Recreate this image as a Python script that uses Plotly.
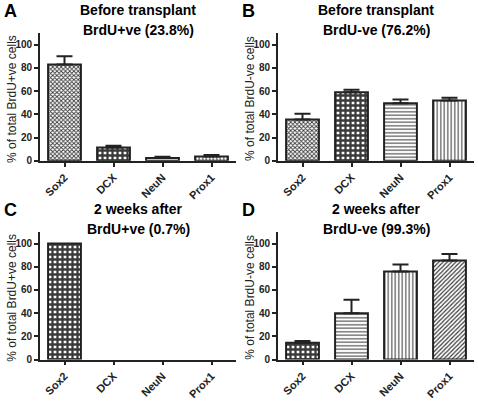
import plotly.graph_objects as go

W, H = 478, 402

categories = ["Sox2", "DCX", "NeuN", "Prox1"]

a_vals = [83.0, 11.5, 2.5, 3.8]
a_err = [7.0, 1.5, 1.0, 1.2]
b_vals = [35.5, 59.0, 49.5, 52.0]
b_err = [5.0, 2.2, 3.2, 2.2]
c_vals = [100.0, 0.0, 0.0, 0.0]
c_err = [0.0, 0.0, 0.0, 0.0]
d_vals = [14.5, 40.0, 76.0, 85.5]
d_err = [1.5, 11.5, 6.0, 5.5]

y_ticks = [0, 20, 40, 60, 80, 100]

panel_letters = ["A", "B", "C", "D"]
title_line1 = ["Before transplant", "Before transplant", "2 weeks after", "2 weeks after"]
title_line2 = ["BrdU+ve (23.8%)", "BrdU-ve (76.2%)", "BrdU+ve (0.7%)", "BrdU-ve (99.3%)"]
y_titles = ["% of total BrdU+ve cells", "% of total BrdU-ve cells",
            "% of total BrdU+ve cells", "% of total BrdU-ve cells"]

# pattern styles per bar
pat_AB = dict(shape=["x", "+", "-", "|"], size=[3, 5, 3.5, 3.5],
              solidity=[0.5, 0.7, 0.3, 0.3])
pat_C = dict(shape=["+", "+", "+", "+"], size=[5, 5, 5, 5],
             solidity=[0.7, 0.7, 0.7, 0.7])
pat_D = dict(shape=["+", "-", "|", "/"], size=[5, 3.5, 3.5, 3],
             solidity=[0.7, 0.3, 0.3, 0.4])

DARK = "#222222"

# pixel geometry of the four plot areas: (x0, x1, ytop, ybottom)
boxes = [(40, 236, 33.5, 163.3), (278, 474, 33.5, 163.3),
         (40, 236, 235.5, 365), (278, 474, 235.5, 365)]

vals = [a_vals, b_vals, c_vals, d_vals]
errs = [a_err, b_err, c_err, d_err]
pats = [pat_AB, pat_AB, pat_C, pat_D]

fig = go.Figure()
layout_axes = {}
annotations = []
font_family = "Liberation Sans, Arial, sans-serif"

for i in range(4):
    xn = "x" if i == 0 else f"x{i+1}"
    yn = "y" if i == 0 else f"y{i+1}"
    show_err = any(e > 0 for e in errs[i])
    outline_w = [2 if v > 0 else 0 for v in vals[i]]
    fig.add_trace(go.Bar(
        x=categories, y=vals[i], xaxis=xn, yaxis=yn, width=0.67,
        marker=dict(color="white",
                    line=dict(color=DARK, width=outline_w),
                    pattern=dict(shape=pats[i]["shape"], size=pats[i]["size"],
                                 solidity=pats[i]["solidity"],
                                 fgcolor="#3a3a3a", bgcolor="white",
                                 fillmode="replace")),
        error_y=dict(type="data", symmetric=False, array=errs[i],
                     arrayminus=[0] * 4, color=DARK, thickness=2, width=8,
                     visible=show_err),
        showlegend=False, hoverinfo="skip",
    ))
    x0, x1, yt, yb = boxes[i]
    xa = "xaxis" if i == 0 else f"xaxis{i+1}"
    ya = "yaxis" if i == 0 else f"yaxis{i+1}"
    layout_axes[xa] = dict(
        domain=[x0 / W, x1 / W], anchor=yn, range=[-0.5, 3.5],
        showline=True, linecolor=DARK, linewidth=1.8, ticks="outside",
        ticklen=4, tickwidth=1.5, tickcolor=DARK, tickangle=-45,
        tickfont=dict(family=font_family, size=11, color=DARK, weight="bold"),
        showgrid=False, zeroline=False, fixedrange=True)
    layout_axes[ya] = dict(
        domain=[1 - yb / H, 1 - yt / H], anchor=xn, range=[0, 110],
        tickvals=y_ticks, showline=True, linecolor=DARK, linewidth=1.8,
        ticks="outside", ticklen=4, tickwidth=1.5, tickcolor=DARK,
        tickfont=dict(family=font_family, size=10, color=DARK, weight="bold"),
        showgrid=False, zeroline=False, fixedrange=True)

    xc = (x0 + x1) / 2
    # panel letter
    annotations.append(dict(
        text=panel_letters[i], x=(x0 - 38) / W, y=1 - (yt - 22.5) / H,
        xref="paper", yref="paper", xanchor="left", yanchor="middle",
        showarrow=False,
        font=dict(family=font_family, size=18, color="black", weight="bold")))
    annotations.append(dict(
        text=title_line1[i], x=xc / W, y=1 - (yt - 23.5) / H,
        xref="paper", yref="paper", xanchor="center", yanchor="middle",
        showarrow=False,
        font=dict(family=font_family, size=14, color="black", weight="bold")))
    annotations.append(dict(
        text=title_line2[i], x=xc / W, y=1 - (yt - 3) / H,
        xref="paper", yref="paper", xanchor="center", yanchor="middle",
        showarrow=False,
        font=dict(family=font_family, size=14, color="black", weight="bold")))
    annotations.append(dict(
        text=y_titles[i], x=(x0 - 28) / W, y=1 - ((yt + yb) / 2 + 2) / H,
        xref="paper", yref="paper", xanchor="center", yanchor="middle",
        textangle=-90, showarrow=False,
        font=dict(family=font_family, size=12, color=DARK)))

fig.update_layout(
    width=W, height=H, margin=dict(l=0, r=0, t=0, b=0),
    paper_bgcolor="white", plot_bgcolor="white", hovermode=False,
    annotations=annotations, bargap=0.33, **layout_axes)

fig.write_html("out.html", config={"displayModeBar": False},
               post_script="document.body.style.margin='0px';"
                           "document.body.style.overflow='hidden';")
